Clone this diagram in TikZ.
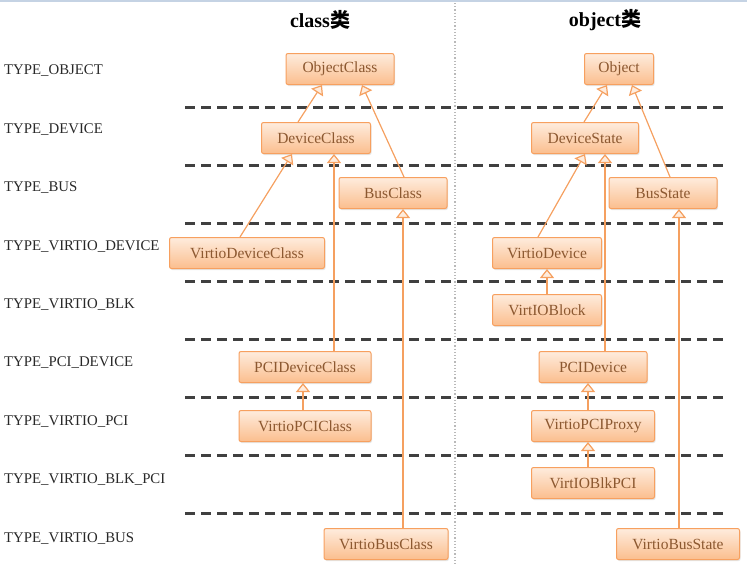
\documentclass[tikz,border=0pt]{standalone}
\usepackage{fontspec}
\setmainfont{Liberation Serif}
\newfontfamily\cjk{Noto Sans CJK SC}
\usepackage{xcolor}
\definecolor{boxborder}{RGB}{247,160,95}
\definecolor{boxtop}{RGB}{254,236,221}
\definecolor{boxbottom}{RGB}{251,190,142}
\definecolor{boxtext}{RGB}{140,88,48}
\definecolor{inheritline}{RGB}{245,160,96}
\definecolor{rowline}{RGB}{64,64,64}
\definecolor{rowtext}{RGB}{40,40,40}
\definecolor{frameline}{RGB}{197,211,228}
\definecolor{midline}{RGB}{185,185,185}
\usetikzlibrary{arrows.meta}
\usetikzlibrary{shadows}

\begin{document}
\begin{tikzpicture}[x=1pt,y=-1pt,
      type style/.style={font=\fontsize{14.8}{16}\selectfont,text=rowtext,anchor=west,inner sep=0pt},
      title style/.style={font=\fontsize{20}{22}\selectfont\bfseries,inner sep=0pt},
      cls style/.style={rectangle,rounded corners=2pt,draw=boxborder,line width=1pt,
        top color=boxtop,bottom color=boxbottom,text=boxtext,
        font=\fontsize{15.5}{17}\selectfont,minimum height=31pt,inner sep=0pt,
        drop shadow={opacity=0.2,shadow xshift=1pt,shadow yshift=-1.5pt}},
      sep style/.style={rowline,line width=2.5pt,dash pattern=on 10pt off 6pt},
      inherit style/.style={draw=inheritline,line width=1.2pt,
        -{Triangle[open,length=9pt,width=14pt,fill=boxtop]}}
      ]
      \useasboundingbox (0,0) rectangle (747,566);
      \draw[frameline,line width=2pt] (0,1) -- (747,1);
      \draw[midline,line width=1.2pt,dotted] (455,3) -- (455,566);

      \node[title style] (clstitle) at (320,20) {class{\cjk 类}};
      \node[title style] (objtitle) at (605,20) {object{\cjk 类}};

      \foreach \name [count=\i] in {TYPE\_OBJECT,TYPE\_DEVICE,TYPE\_BUS,TYPE\_VIRTIO\_DEVICE,
        TYPE\_VIRTIO\_BLK,TYPE\_PCI\_DEVICE,TYPE\_VIRTIO\_PCI,TYPE\_VIRTIO\_BLK\_PCI,TYPE\_VIRTIO\_BUS}
        \node[type style] (type\i) at (4,{71+58.4*(\i-1)}) {\name};
      \foreach \i in {1,...,8}
        \draw[sep style] (185,{107.5+58*(\i-1)}) -- (725,{107.5+58*(\i-1)});

      \node[cls style,minimum width=108pt] (objc) at (340,69) {ObjectClass};
      \node[cls style,minimum width=109pt] (devc) at (316,138) {DeviceClass};
      \node[cls style,minimum width=108pt] (busc) at (393,193) {BusClass};
      \node[cls style,minimum width=155pt] (vdevc) at (247,253) {VirtioDeviceClass};
      \node[cls style,minimum width=132pt] (pcic) at (305,367) {PCIDeviceClass};
      \node[cls style,minimum width=132pt] (vpcic) at (305,426) {VirtioPCIClass};
      \node[cls style,minimum width=124pt] (vbusc) at (386,544) {VirtioBusClass};

      \node[cls style,minimum width=69pt] (obj) at (619,69) {Object};
      \node[cls style,minimum width=107pt] (devs) at (585,138) {DeviceState};
      \node[cls style,minimum width=108pt] (buss) at (663,193) {BusState};
      \node[cls style,minimum width=109pt] (vdev) at (547,253) {VirtioDevice};
      \node[cls style,minimum width=109pt] (vblk) at (547,310) {VirtIOBlock};
      \node[cls style,minimum width=108pt] (pcid) at (593,367) {PCIDevice};
      \node[cls style,minimum width=123pt] (vpcip) at (593,426) {VirtioPCIProxy};
      \node[cls style,minimum width=123pt] (vblkpci) at (593,483) {VirtIOBlkPCI};
      \node[cls style,minimum width=123pt] (vbuss) at (678,544) {VirtioBusState};

      \draw[inherit style] ([xshift=-18pt]devc.north) -- ([xshift=-18pt]objc.south);
      \draw[inherit style] ([xshift=11pt]busc.north) -- ([xshift=22pt]objc.south);
      \draw[inherit style] ([xshift=-7pt]vdevc.north) -- ([xshift=-24pt]devc.south);
      \draw[inherit style] ([xshift=29pt]pcic.north) -- ([xshift=18pt]devc.south);
      \draw[inherit style] ([xshift=17pt]vbusc.north) -- ([xshift=10pt]busc.south);
      \draw[inherit style] ([xshift=-2pt]vpcic.north) -- ([xshift=-2pt]pcic.south);

      \draw[inherit style] ([xshift=-1pt]devs.north) -- ([xshift=-12pt]obj.south);
      \draw[inherit style] ([xshift=7pt]buss.north) -- ([xshift=13pt]obj.south);
      \draw[inherit style] ([xshift=-9pt]vdev.north) -- (devs.south);
      \draw[inherit style] ([xshift=12pt]pcid.north) -- ([xshift=20pt]devs.south);
      \draw[inherit style] (vblk.north) -- (vdev.south);
      \draw[inherit style] ([xshift=1pt]vbuss.north) -- ([xshift=16pt]buss.south);
      \draw[inherit style] ([xshift=-5pt]vpcip.north) -- ([xshift=-5pt]pcid.south);
      \draw[inherit style] ([xshift=-5pt]vblkpci.north) -- ([xshift=-5pt]vpcip.south);
    \end{tikzpicture}
\end{document}
